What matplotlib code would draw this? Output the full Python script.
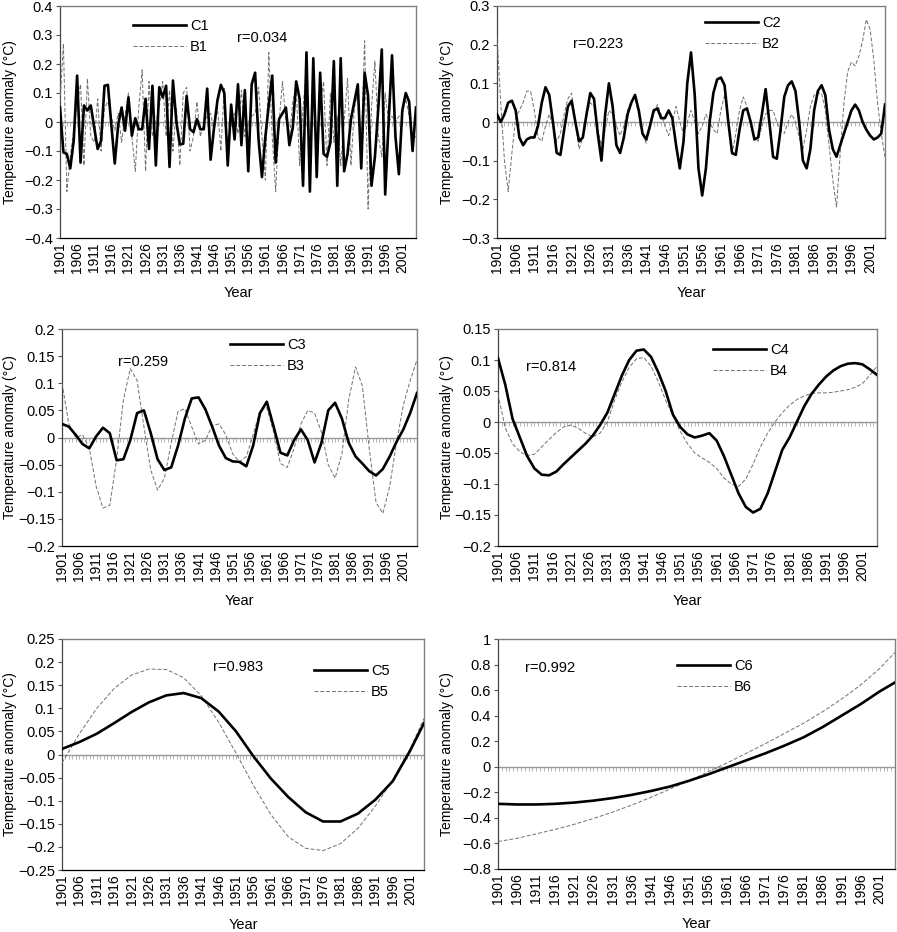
import numpy as np
import matplotlib
matplotlib.use("Agg")
import matplotlib.pyplot as plt
from matplotlib.ticker import FuncFormatter

plt.rcParams['font.family'] = ['Liberation Sans', 'DejaVu Sans']

# ---- data -------------------------------------------------------------
years = np.arange(1901, 2006)          # annual, panels 1-2
years2 = np.arange(1901, 2006, 2)      # panels 3-4
years5 = list(range(1901, 2002, 5)) + [2005]   # panels 5-6

c1 = [0.05, -0.105, -0.11, -0.16, -0.065, 0.16, -0.14, 0.057, 0.04, 0.057,
      -0.02, -0.093, -0.065, 0.125, 0.128, -0.01, -0.143, -0.01, 0.05, -0.03,
      0.085, -0.047, 0.013, -0.025, -0.025, 0.08, -0.093, 0.125, -0.15, 0.12,
      0.085, 0.125, -0.155, 0.143, 0.0, -0.077, -0.075, 0.09, -0.025, -0.035,
      0.01, -0.025, -0.025, 0.115, -0.13, -0.02, 0.075, 0.128, 0.10, -0.15,
      0.06, -0.06, 0.13, -0.08, 0.11, -0.17, 0.13, 0.17, -0.06, -0.19,
      -0.05, 0.06, 0.16, -0.14, 0.01, 0.03, 0.05, -0.08, -0.02, 0.14,
      0.08, -0.22, 0.24, -0.24, 0.22, -0.19, 0.17, -0.11, -0.12, -0.07,
      0.21, -0.22, 0.22, -0.17, -0.11, 0.01, 0.07, 0.13, -0.16, 0.17,
      0.09, -0.22, -0.12, 0.05, 0.25, -0.25, 0.0, 0.23, -0.05, -0.18,
      0.04, 0.10, 0.07, -0.10, 0.05]
b1 = [0.07, 0.27, -0.24, -0.12, -0.03, 0.06, 0.13, -0.15, 0.15, -0.05,
      -0.07, 0.08, -0.10, 0.05, 0.07, 0.02, -0.03, 0.03, -0.07, 0.02,
      0.10, -0.05, -0.17, 0.05, 0.18, -0.17, 0.14, -0.05, 0.0, 0.05,
      0.14, -0.05, 0.11, -0.10, 0.05, -0.15, 0.10, 0.12, -0.10, -0.05,
      0.07, -0.05, 0.0, 0.02, 0.03, -0.03, 0.05, -0.10, 0.12, -0.10,
      0.0, 0.03, -0.04, 0.11, -0.05, 0.0, 0.02, 0.03, 0.12, -0.05,
      -0.20, 0.24, -0.05, -0.24, 0.0, 0.14, 0.0, -0.06, 0.07, 0.12,
      -0.15, 0.05, 0.19, -0.12, 0.15, -0.10, 0.05, 0.14, -0.15, 0.10,
      -0.07, 0.02, -0.15, 0.0, 0.15, -0.15, 0.05, 0.10, -0.07, 0.28,
      -0.30, 0.05, 0.21, -0.05, -0.12, 0.10, 0.0, 0.02, 0.0, 0.02,
      0.03, 0.08, 0.02, -0.06, -0.05]

c2 = [0.02, 0.0, 0.02, 0.05, 0.055, 0.03, -0.04, -0.06, -0.045, -0.04,
      -0.04, -0.01, 0.05, 0.09, 0.07, 0.0, -0.08, -0.085, -0.02, 0.04,
      0.055, 0.0, -0.05, -0.04, 0.02, 0.075, 0.06, -0.03, -0.10, 0.02,
      0.10, 0.04, -0.06, -0.08, -0.04, 0.02, 0.05, 0.07, 0.03, -0.03,
      -0.045, -0.01, 0.03, 0.035, 0.01, 0.01, 0.03, 0.01, -0.06, -0.12,
      -0.05, 0.10, 0.18, 0.07, -0.12, -0.19, -0.12, 0.0, 0.075, 0.11,
      0.115, 0.095, 0.0, -0.08, -0.085, -0.02, 0.03, 0.035, 0.0, -0.045,
      -0.04, 0.02, 0.085, 0.0, -0.09, -0.095, -0.02, 0.065, 0.095, 0.105,
      0.08, 0.0, -0.10, -0.12, -0.07, 0.03, 0.08, 0.095, 0.07, -0.02,
      -0.07, -0.09, -0.06, -0.03, 0.0, 0.03, 0.045, 0.03, 0.0, -0.02,
      -0.035, -0.045, -0.04, -0.03, 0.045]
b2 = [0.22, 0.05, -0.10, -0.18, -0.08, 0.01, 0.03, 0.05, 0.08, 0.08,
      0.03, -0.04, -0.05, -0.01, 0.02, -0.01, -0.05, -0.03, 0.02, 0.06,
      0.075, 0.0, -0.07, -0.04, 0.02, 0.05, 0.04, -0.02, -0.06, -0.02,
      0.03, 0.02, -0.01, -0.035, -0.01, 0.03, 0.055, 0.06, 0.02, -0.03,
      -0.055, -0.02, 0.02, 0.045, 0.02, -0.01, -0.035, 0.0, 0.04, 0.0,
      -0.03, 0.0, 0.03, 0.0, -0.03, -0.01, 0.02, 0.0, -0.02, -0.03,
      0.03, 0.07, 0.0, -0.085, -0.03, 0.03, 0.065, 0.04, -0.01, -0.04,
      -0.05, -0.01, 0.02, 0.03, 0.03, 0.0, -0.02, -0.03, 0.0, 0.02,
      0.0, -0.04, -0.07, -0.02, 0.04, 0.07, 0.075, 0.075, 0.03, -0.06,
      -0.15, -0.22, -0.08, 0.05, 0.13, 0.155, 0.145, 0.17, 0.21, 0.265,
      0.24, 0.16, 0.05, -0.03, -0.09]

c3 = [0.025, 0.02, 0.005, -0.012, -0.02, 0.002, 0.018, 0.008, -0.042, -0.04,
      -0.005, 0.045, 0.05, 0.008, -0.04, -0.06, -0.055, -0.015, 0.035, 0.072,
      0.074, 0.052, 0.02, -0.015, -0.038, -0.044, -0.045, -0.053, -0.015, 0.045,
      0.066, 0.02, -0.028, -0.033, -0.005, 0.015, -0.005, -0.046, -0.01, 0.05,
      0.064, 0.035, -0.01, -0.035, -0.048, -0.062, -0.07, -0.058, -0.035, -0.008,
      0.015, 0.045, 0.082]
b3 = [0.10, 0.025, 0.0, 0.005, -0.02, -0.09, -0.13, -0.125, -0.04, 0.07,
      0.127, 0.105, 0.02, -0.06, -0.097, -0.075, -0.01, 0.048, 0.053, 0.02,
      -0.012, -0.005, 0.022, 0.025, 0.005, -0.03, -0.045, -0.035, 0.005, 0.05,
      0.055, 0.01, -0.048, -0.055, -0.02, 0.025, 0.05, 0.045, 0.01, -0.05,
      -0.075, -0.03, 0.07, 0.13, 0.095, -0.02, -0.12, -0.14, -0.09, -0.01,
      0.06, 0.105, 0.143]

c4 = [0.103, 0.06, 0.005, -0.025, -0.055, -0.075, -0.085, -0.086, -0.08, -0.068,
      -0.057, -0.046, -0.035, -0.022, -0.005, 0.015, 0.045, 0.075, 0.10, 0.115,
      0.117, 0.105, 0.08, 0.05, 0.012, -0.008, -0.02, -0.025, -0.022, -0.018,
      -0.03, -0.055, -0.085, -0.115, -0.137, -0.146, -0.14, -0.115, -0.08, -0.045,
      -0.025, 0.0, 0.025, 0.045, 0.06, 0.073, 0.083, 0.09, 0.094, 0.095,
      0.093, 0.085, 0.076]
b4 = [0.045, -0.01, -0.035, -0.048, -0.054, -0.052, -0.04, -0.028, -0.017, -0.008,
      -0.005, -0.01, -0.018, -0.024, -0.018, 0.0, 0.035, 0.065, 0.088, 0.102,
      0.104, 0.09, 0.065, 0.035, 0.01, -0.015, -0.035, -0.05, -0.058, -0.065,
      -0.075, -0.09, -0.1, -0.104, -0.092, -0.068, -0.04, -0.018, 0.0, 0.015,
      0.027, 0.036, 0.042, 0.046, 0.047, 0.047, 0.048, 0.05, 0.052, 0.056,
      0.062, 0.075, 0.09]

c5 = [0.012, 0.027, 0.045, 0.068, 0.092, 0.113, 0.128, 0.133, 0.122, 0.093,
      0.05, -0.004, -0.052, -0.092, -0.125, -0.145, -0.145, -0.128, -0.098, -0.058,
      0.008, 0.068]
b5 = [-0.018, 0.045, 0.10, 0.143, 0.172, 0.185, 0.184, 0.166, 0.127, 0.07,
      0.003, -0.067, -0.13, -0.178, -0.203, -0.208, -0.193, -0.16, -0.112, -0.055,
      0.012, 0.078]

c6 = [-0.29, -0.295, -0.295, -0.29, -0.28, -0.265, -0.245, -0.22, -0.19, -0.155,
      -0.11, -0.06, -0.005, 0.05, 0.105, 0.165, 0.23, 0.31, 0.40, 0.49,
      0.59, 0.66]
b6 = [-0.585, -0.56, -0.525, -0.49, -0.45, -0.405, -0.355, -0.30, -0.24, -0.175,
      -0.11, -0.04, 0.03, 0.105, 0.18, 0.26, 0.34, 0.43, 0.53, 0.64,
      0.77, 0.895]

r_values = ['0.034', '0.223', '0.259', '0.814', '0.983', '0.992']

# ---- layout (pixel boxes of the reference) ---------------------------
W, H = 897, 932
fig = plt.figure(figsize=(W / 100, H / 100), dpi=100)

panels = [
    # x, c, b, (ymin, ymax, step), box l,r,t,b, legend (x,y), r text (x,y), ylabel x
    (years, c1, b1, (-0.4, 0.4, 0.1), (60, 416, 6, 238), (133, 19), (237, 38), 17),
    (years, c2, b2, (-0.3, 0.3, 0.1), (497, 885, 6, 238), (705, 16), (573, 44), 454),
    (years2, c3, b3, (-0.2, 0.2, 0.05), (62, 417, 329, 546), (230, 338), (118, 362), 17),
    (years2, c4, b4, (-0.2, 0.15, 0.05), (498, 877, 329, 546), (713, 343), (526, 367), 454),
    (years5, c5, b5, (-0.25, 0.25, 0.05), (62, 424, 639, 870), (314, 664), (213, 667), 17),
    (years5, c6, b6, (-0.8, 1.0, 0.2), (498, 895, 639, 869), (677, 659), (525, 668), 454),
]

fs = 10


def fmt(v, pos):
    if abs(v) < 1e-9:
        return '0'
    return f"{round(v, 2):g}".replace('-', '\u2212')


for i, (x, c, b, (ymin, ymax, step), (l, r, t, bt), leg, rtxt, ylx) in enumerate(panels):
    ax = fig.add_axes([l / W, 1 - bt / H, (r - l) / W, (bt - t) / H])
    ax.plot(x, b, color='#707070', lw=0.7, ls=(0, (4, 2)), label=f'B{i+1}', zorder=3)
    ax.plot(x, c, color='black', lw=1.9, label=f'C{i+1}', zorder=4)

    ax.set_xlim(1901, 2005)
    ax.set_ylim(ymin, ymax)
    ax.set_yticks(np.arange(ymin, ymax + step / 2, step))
    ax.yaxis.set_major_formatter(FuncFormatter(fmt))
    ax.set_xticks(range(1901, 2002, 5))
    ax.tick_params(axis='x', length=0, pad=3, labelrotation=90, labelsize=fs)
    ax.tick_params(axis='y', length=3, width=0.8, color='#555555', labelsize=fs + 0.5, pad=2)

    for s in ('top', 'right'):
        ax.spines[s].set_color('#808080')
        ax.spines[s].set_linewidth(1.0)
    ax.spines['left'].set_color('#444444')
    ax.spines['bottom'].set_color('black')
    for s in ('left', 'bottom'):
        ax.spines[s].set_linewidth(0.9)

    # zero line with yearly ticks
    frac = (0 - ymin) / (ymax - ymin)
    ax.axhline(0, color='#999999', lw=1.0, zorder=2)
    sec = ax.secondary_xaxis(frac)
    sec.set_alignment('bottom')
    sec.set_xticks(np.arange(1901, 2006))
    sec.tick_params(length=3, width=0.6, color='#aaaaaa', labelbottom=False)
    sec.spines['bottom'].set_visible(False)

    ax.set_ylabel('Temperature anomaly (\u00b0C)', fontsize=fs)
    ax.yaxis.set_label_coords((ylx - l) / (r - l), 0.5)
    ax.set_xlabel('Year', fontsize=fs + 0.5)
    ax.xaxis.set_label_coords(0.5, -(48 / (bt - t)))

    h, lab = ax.get_legend_handles_labels()
    fig.legend(h[::-1], lab[::-1], loc='upper left',
               bbox_to_anchor=(leg[0] / W, 1 - leg[1] / H),
               frameon=False, fontsize=fs + 0.5, handlelength=3.6,
               handletextpad=0.3, labelspacing=0.5, borderpad=0, borderaxespad=0)
    fig.text(rtxt[0] / W, 1 - rtxt[1] / H, f'r={r_values[i]}', fontsize=fs + 0.5,
             va='center', ha='left')

fig.savefig('out.png', dpi=100)
